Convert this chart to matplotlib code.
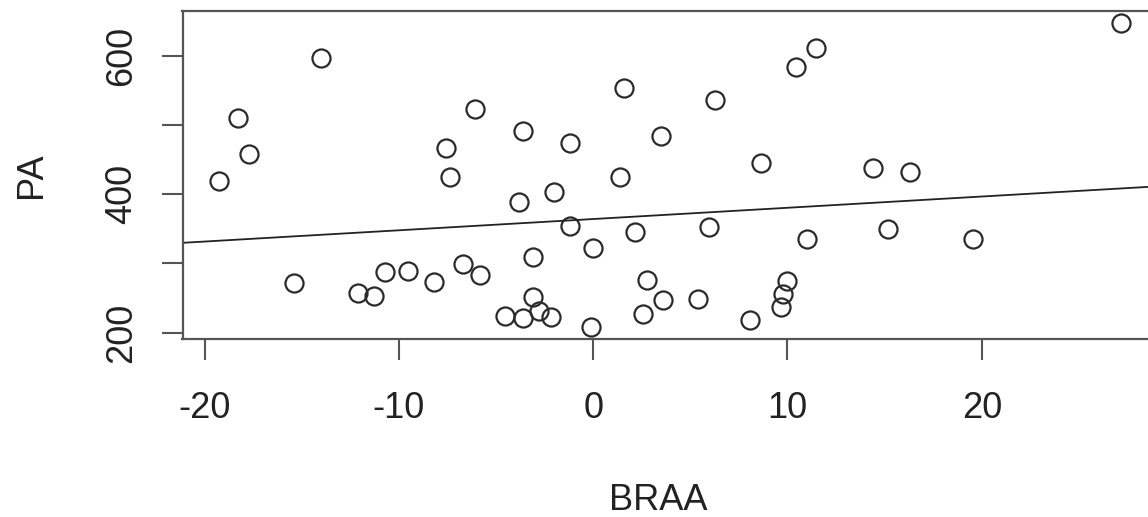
import numpy as np
import matplotlib
matplotlib.use('Agg')
import matplotlib.pyplot as plt

# BRAA vs PA
braa = [-14.0, -18.29, -17.69, -19.28, -6.10, -7.60, -7.39, -15.42, -12.11, -11.30,
        -10.70, -9.52, -8.20, -6.70, -5.81, -4.56, -3.61, -1.21, 1.59, 3.48,
        6.29, 8.66, 10.46, 11.49, 27.16, 14.38, 16.30, 1.36, -3.82, -2.03,
        -1.21, -0.01, 2.17, 5.96, 10.98, -3.10, 2.79, -3.10, -3.61, -2.79,
        -2.19, -0.09, 3.59, 2.56, 5.40, 8.09, 9.95, 9.77, 9.69, 15.18, 19.56]
pa = [597, 510.7, 458, 419.2, 522.8, 466.5, 424.6, 271.4, 257.8, 253.5,
      288, 289.2, 273.7, 298.8, 282.9, 224.6, 491.5, 473.7, 554, 484.2,
      536.3, 445.7, 583.5, 611, 648, 437.6, 432.7, 425.4, 389.3, 403.8,
      354.2, 322.8, 345, 352.3, 335, 309, 276.2, 252, 220.8, 230.4,
      223.1, 207.8, 247.3, 226.6, 248.3, 218.4, 274.7, 256, 237.6, 349.4, 335]
xticks = [-20, -10, 0, 10, 20]
yticks = [200, 300, 400, 500, 600]
yticklabels = ['200', '', '400', '', '600']

plt.rcParams['font.family'] = ['Liberation Sans', 'DejaVu Sans']
plt.rcParams['axes.unicode_minus'] = False

x = np.array(braa)
y = np.array(pa)

fig = plt.figure(figsize=(11.48, 5.17), dpi=100)
W, H = 1148.0, 517.0
ax = fig.add_axes([182.5 / W, 1 - 339.3 / H, (1157 - 182.5) / W, (339.3 - 10.5) / H])

# R style limits: data range + 4%
def rlim(v):
    r = v.max() - v.min()
    return v.min() - 0.04 * r, v.max() + 0.04 * r

ax.set_xlim(*rlim(x))
ax.set_ylim(*rlim(y))

ax.plot(x, y, 'o', mfc='none', mec='#2a2a2a', ms=13, mew=1.6, clip_on=False)

# abline(lm(PA ~ BRAA))
slope, icpt = np.polyfit(x, y, 1)
xl = np.array(ax.get_xlim())
ax.plot(xl, icpt + slope * xl, color='#222222', lw=1.3)

for s in ax.spines.values():
    s.set_color('#555555')
    s.set_linewidth(1.6)

ax.set_xticks(xticks)
ax.set_yticks(yticks)
ax.set_yticklabels(yticklabels)
ax.tick_params(direction='out', length=15, width=1.5, color='#555555',
               labelsize=26, labelcolor='#222222')
ax.tick_params(axis='x', pad=22)
ax.tick_params(axis='y', pad=16)
for lab in ax.get_yticklabels():
    lab.set_rotation(90)
    lab.set_va('center')

ax.set_xlabel('BRAA', fontsize=26, color='#222222', va='center')
ax.xaxis.set_label_coords(0.488, -0.491)
ax.set_ylabel('PA', fontsize=26, color='#222222', va='center')
ax.yaxis.set_label_coords(-0.1546, 0.5)

plt.savefig('out.png', dpi=100)
